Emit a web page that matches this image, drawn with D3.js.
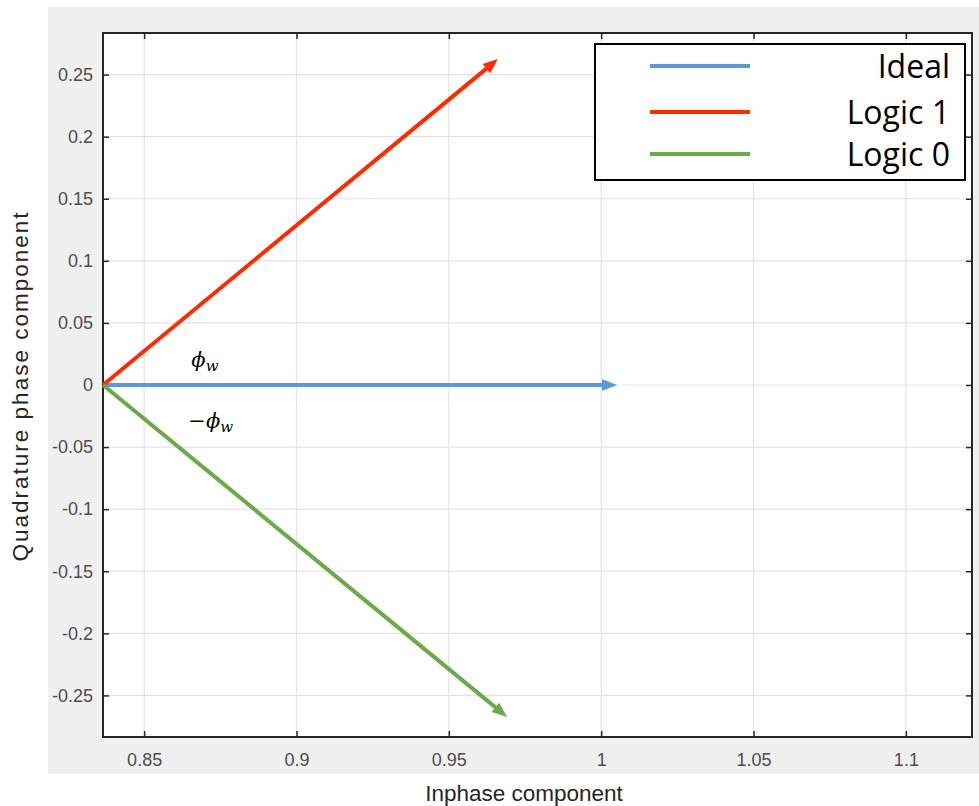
<!DOCTYPE html>
<meta charset="utf-8">
<style>
body { margin: 0; background: #fff; }
.tick text { font-family: "Liberation Sans", Arial, sans-serif; font-size: 18px; fill: #4d4d4d; }
.axlabel { font-family: "Liberation Sans", Arial, sans-serif; font-size: 22.5px; fill: #262626; }
.legend text { font-family: "Open Sans", sans-serif; font-size: 32px; fill: #000; }
.phi { font-family: "DejaVu Serif", serif; font-style: italic; font-size: 21px; fill: #000; }
</style>
<body>
<script src="https://d3js.org/d3.v7.min.js"></script>
<script>
// vector data (inphase, quadrature)
var origin = [0.8365, 0];
var names = ["Ideal", "Logic 1", "Logic 0"];
var colors = ["#5b9bd5", "#ff2a00", "#6aab47"];
var tipsI = [1.0052, 0.9661, 0.9691];
var tipsQ = [0, 0.2625, -0.2673];
var xTicks = [0.85, 0.9, 0.95, 1, 1.05, 1.1];
var yTicks = [-0.25, -0.2, -0.15, -0.1, -0.05, 0, 0.05, 0.1, 0.15, 0.2, 0.25];

var W = 979, H = 806;
var margin = {top: 33, right: 7, bottom: 69, left: 103},
    width = W - margin.left - margin.right,
    height = H - margin.top - margin.bottom;

var svg = d3.select("body").append("svg")
    .attr("width", W)
    .attr("height", H);

// gray figure background
svg.append("rect")
    .attr("x", 48).attr("y", 7)
    .attr("width", W - 48).attr("height", 767)
    .attr("fill", "#f0f0f0");

var g = svg.append("g")
    .attr("transform", "translate(" + margin.left + "," + margin.top + ")");

var x = d3.scaleLinear().domain([0.8365, 1.1217]).range([0, width]);
var y = d3.scaleLinear().domain([-0.2835, 0.2835]).range([height, 0]);

g.append("rect").attr("width", width).attr("height", height).attr("fill", "#fff");

// grid
g.selectAll(".gx").data(xTicks).enter().append("line")
    .attr("x1", function(d) { return x(d); }).attr("x2", function(d) { return x(d); })
    .attr("y1", 0).attr("y2", height)
    .attr("stroke", "#e3e3e3").attr("stroke-width", 1.2);
g.selectAll(".gy").data(yTicks).enter().append("line")
    .attr("y1", function(d) { return y(d); }).attr("y2", function(d) { return y(d); })
    .attr("x1", 0).attr("x2", width)
    .attr("stroke", "#e3e3e3").attr("stroke-width", 1.2);

// axes
function styleAxis(sel) {
  sel.select(".domain").remove();
  sel.selectAll(".tick line").attr("stroke", "#262626").attr("stroke-width", 1.5);
}
function noLabels(sel) { sel.selectAll(".tick text").remove(); }
var fmt = function(d) { return String(d); };
g.append("g")
    .attr("transform", "translate(0," + height + ")")
    .call(d3.axisBottom(x).tickValues(xTicks).tickSize(-6).tickPadding(16).tickFormat(fmt))
    .call(styleAxis);
g.append("g")
    .call(d3.axisTop(x).tickValues(xTicks).tickSize(-6))
    .call(styleAxis).call(noLabels);
g.append("g")
    .call(d3.axisLeft(y).tickValues(yTicks).tickSize(-6).tickPadding(10).tickFormat(fmt))
    .call(styleAxis);
g.append("g")
    .attr("transform", "translate(" + width + ",0)")
    .call(d3.axisRight(y).tickValues(yTicks).tickSize(-6))
    .call(styleAxis).call(noLabels);

g.append("rect").attr("width", width).attr("height", height)
    .attr("fill", "none").attr("stroke", "#262626").attr("stroke-width", 2);

// vectors with arrow heads
var headL = 15, headW = 12;
names.forEach(function(n, i) {
  var x0 = x(origin[0]), y0 = y(origin[1]);
  var x1 = x(tipsI[i]), y1 = y(tipsQ[i]);
  var dx = x1 - x0, dy = y1 - y0, len = Math.sqrt(dx * dx + dy * dy);
  var ux = dx / len, uy = dy / len;
  var bx = x1 - ux * headL, by = y1 - uy * headL;
  g.append("line")
      .attr("x1", x0).attr("y1", y0).attr("x2", bx + ux * 2).attr("y2", by + uy * 2)
      .attr("stroke", colors[i]).attr("stroke-width", 4);
  g.append("path")
      .attr("d", "M" + x1 + "," + y1 +
                 "L" + (bx - uy * headW / 2) + "," + (by + ux * headW / 2) +
                 "L" + (bx + uy * headW / 2) + "," + (by - ux * headW / 2) + "Z")
      .attr("fill", colors[i]);
});

// phi annotations
var p1 = g.append("text").attr("class", "phi")
    .attr("x", x(0.8655)).attr("y", y(0.0145));
p1.append("tspan").text("\u03d5");
p1.append("tspan").attr("dy", 4).attr("font-size", 15).text("w");
var p2 = g.append("text").attr("class", "phi")
    .attr("x", x(0.8645)).attr("y", y(-0.0345));
p2.append("tspan").text("\u2212\u03d5");
p2.append("tspan").attr("dy", 4).attr("font-size", 15).text("w");

// axis labels
svg.append("text").attr("class", "axlabel")
    .attr("x", 524).attr("y", 801)
    .attr("text-anchor", "middle")
    .text("Inphase component");
svg.append("text").attr("class", "axlabel")
    .attr("transform", "translate(28,386) rotate(-90)")
    .attr("text-anchor", "middle")
    .attr("letter-spacing", "2px")
    .text("Quadrature phase component");

// legend
var leg = svg.append("g").attr("class", "legend");
leg.append("rect")
    .attr("x", 595).attr("y", 44).attr("width", 370).attr("height", 136)
    .attr("fill", "#fff").attr("stroke", "#000").attr("stroke-width", 2);
var legY = [66, 112, 154];
names.forEach(function(n, i) {
  leg.append("line")
      .attr("x1", 650).attr("x2", 750).attr("y1", legY[i]).attr("y2", legY[i])
      .attr("stroke", colors[i]).attr("stroke-width", 4);
  leg.append("text")
      .attr("x", 950).attr("y", legY[i] + 12)
      .attr("text-anchor", "end")
      .text(n);
});
</script>
</body>
